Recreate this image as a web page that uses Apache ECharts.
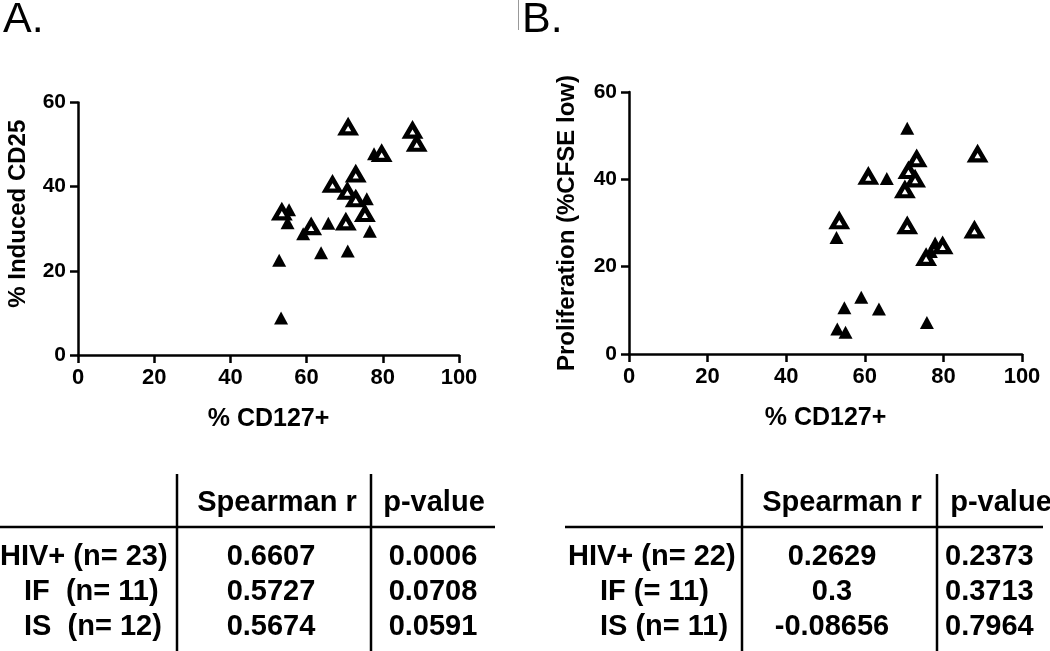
<!DOCTYPE html>
<html><head><meta charset="utf-8">
<script src="https://cdn.jsdelivr.net/npm/echarts@6/dist/echarts.min.js"></script>
<style>html,body{margin:0;padding:0;background:#fff}#c{width:1050px;height:651px}</style>
</head><body><div id="c"></div>
<script>
// ---- Data ----
const xTicks = [0, 20, 40, 60, 80, 100];
const yTicks = [0, 20, 40, 60];
// Panel A: % CD127+ vs % Induced CD25
const panelA_IF = [[77.7,47.8],[75.8,37.1],[55.4,34.5],[55.0,31.4],[59.1,28.8],[65.7,31.3],[76.6,29.4],[63.8,24.3],[70.8,24.7],[52.8,22.5],[53.3,8.8]];
const panelA_IS = [[70.9,54.1],[87.8,53.3],[88.9,50.2],[79.7,47.8],[72.9,42.9],[66.8,40.5],[70.7,38.8],[72.9,37.0],[75.3,33.5],[53.5,33.9],[61.2,30.4],[70.3,31.5]];
// Panel B: % CD127+ vs Proliferation (%CFSE low)
const panelB_IF = [[70.8,51.7],[65.6,40.2],[52.8,26.7],[77.9,25.4],[76.8,23.5],[59.1,13.0],[54.8,10.6],[63.6,10.3],[75.8,7.2],[53.0,5.7],[55.1,5.0]];
const panelB_IS = [[88.7,45.7],[73.2,44.6],[71.1,41.9],[72.8,40.0],[60.9,40.6],[70.2,37.5],[53.5,30.4],[70.8,29.3],[87.9,28.3],[79.8,24.7],[75.6,22.0]];
// Tables
const tableHeaders = ['Spearman r', 'p-value'];
const tableA_rows = ['HIV+ (n= 23)', 'IF  (n= 11)', 'IS  (n= 12)'];
const tableA_r = ['0.6607', '0.5727', '0.5674'];
const tableA_p = ['0.0006', '0.0708', '0.0591'];
const tableB_rows = ['HIV+ (n= 22)', 'IF (= 11)', 'IS (n= 11)'];
const tableB_r = ['0.2629', '0.3', '-0.08656'];
const tableB_p = ['0.2373', '0.3713', '0.7964'];

// ---- Chart ----
const FONT = '"Liberation Sans", Arial, sans-serif';
const chart = echarts.init(document.getElementById('c'), null, {renderer: 'canvas'});

function xAxis(gridIndex) {
  return {
    type: 'value', gridIndex, min: xTicks[0], max: xTicks[xTicks.length-1], interval: 20,
    name: '% CD127+', nameLocation: 'middle', nameGap: 52,
    nameTextStyle: {fontFamily: FONT, fontWeight: 'bold', fontSize: 25, color: '#000'},
    axisLine: {show: true, onZero: false, lineStyle: {color: '#000', width: 2.5}},
    axisTick: {show: true, length: 8, lineStyle: {color: '#000', width: 2.5}},
    axisLabel: {margin: 12, fontFamily: FONT, fontWeight: 'bold', fontSize: 22, color: '#000'},
    splitLine: {show: false}
  };
}
function yAxis(gridIndex, name, gap, pad) {
  return {
    type: 'value', gridIndex, min: yTicks[0], max: yTicks[yTicks.length-1], interval: 20,
    name, nameLocation: 'middle', nameGap: gap,
    nameTextStyle: {fontFamily: FONT, fontWeight: 'bold', fontSize: 24, color: '#000', padding: pad},
    axisLine: {show: true, onZero: false, lineStyle: {color: '#000', width: 2.5}},
    axisTick: {show: true, length: 8, lineStyle: {color: '#000', width: 2.5}},
    axisLabel: {margin: 12, fontFamily: FONT, fontWeight: 'bold', fontSize: 21, color: '#000'},
    splitLine: {show: false}
  };
}
const filledStyle = {symbol: 'triangle', symbolSize: [14, 13], itemStyle: {color: '#000', opacity: 1}};
const openStyle = {symbol: 'triangle', symbolSize: [14, 12], itemStyle: {color: '#fff', borderColor: '#000', borderWidth: 4.5, opacity: 1}};

function textEl(x, y, text, align, size, weight) {
  return {type: 'text', x, y, style: {text, fill: '#000', font: (weight||'bold') + ' ' + (size||29) + 'px ' + FONT, textAlign: align || 'left', textVerticalAlign: 'middle'}};
}
function lineEl(x1, y1, x2, y2, w) {
  return {type: 'line', shape: {x1, y1, x2, y2}, style: {stroke: '#000', lineWidth: w || 2.5}};
}
const rowYs = [557, 592, 627];
const graphics = [
  textEl(3, 20, 'A.', 'left', 43, 'normal'),
  textEl(522, 20, 'B.', 'left', 43, 'normal'),
  {type: 'line', shape: {x1: 518.5, y1: 0, x2: 518.5, y2: 30}, style: {stroke: '#999', lineWidth: 1}},
  // Table A
  lineEl(177, 474, 177, 651), lineEl(371, 474, 371, 651), lineEl(0, 527, 495, 527),
  textEl(277, 503, tableHeaders[0], 'center'), textEl(434, 503, tableHeaders[1], 'center'),
  // Table B
  lineEl(742, 474, 742, 651), lineEl(937, 474, 937, 651), lineEl(565, 527, 1043, 527),
  textEl(842, 503, tableHeaders[0], 'center'), textEl(1001, 503, tableHeaders[1], 'center')
];
const rowXA = [0, 24, 24], rowXB = [568, 600, 600];
tableA_rows.forEach((t, i) => {
  graphics.push(textEl(rowXA[i], rowYs[i], t, 'left'));
  graphics.push(textEl(271, rowYs[i], tableA_r[i], 'center'));
  graphics.push(textEl(433, rowYs[i], tableA_p[i], 'center'));
});
tableB_rows.forEach((t, i) => {
  graphics.push(textEl(rowXB[i], rowYs[i], t, 'left'));
  graphics.push(textEl(832, rowYs[i], tableB_r[i], 'center'));
  graphics.push(textEl(945, rowYs[i], tableB_p[i], 'left'));
});

chart.setOption({
  backgroundColor: '#fff',
  animation: false,
  grid: [
    {left: 78, right: 591, top: 102.5, bottom: 296, containLabel: false},
    {left: 629, right: 28, top: 92, bottom: 297, containLabel: false}
  ],
  xAxis: [xAxis(0), xAxis(1)],
  yAxis: [yAxis(0, '% Induced CD25', 48, [0, 0, 0, 30]), yAxis(1, 'Proliferation (%CFSE low)', 50, 0)],
  series: [
    Object.assign({type: 'scatter', name: 'IF A', xAxisIndex: 0, yAxisIndex: 0, data: panelA_IF}, filledStyle),
    Object.assign({type: 'scatter', name: 'IS A', xAxisIndex: 0, yAxisIndex: 0, data: panelA_IS}, openStyle),
    Object.assign({type: 'scatter', name: 'IF B', xAxisIndex: 1, yAxisIndex: 1, data: panelB_IF}, filledStyle),
    Object.assign({type: 'scatter', name: 'IS B', xAxisIndex: 1, yAxisIndex: 1, data: panelB_IS}, openStyle)
  ],
  graphic: graphics
});
</script></body></html>
